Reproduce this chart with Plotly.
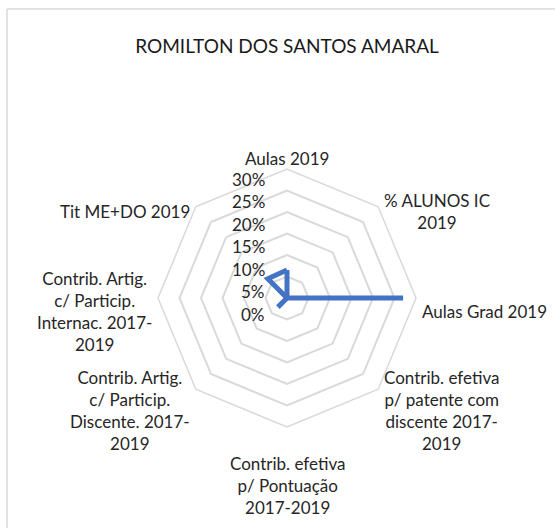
import math
import plotly.graph_objects as go

title = "ROMILTON DOS SANTOS AMARAL"
categories = [
    "Aulas 2019",
    "% ALUNOS IC 2019",
    "Aulas Grad 2019",
    "Contrib. efetiva p/ patente com discente 2017-2019",
    "Contrib. efetiva p/ Pontuação 2017-2019",
    "Contrib. Artig. c/ Particip. Discente. 2017-2019",
    "Contrib. Artig. c/ Particip. Internac. 2017-2019",
    "Tit ME+DO 2019",
]
category_labels = [
    "Aulas 2019",
    "% ALUNOS IC<br>2019",
    "Aulas Grad 2019",
    "Contrib. efetiva<br>p/ patente com<br>discente 2017-<br>2019",
    "Contrib. efetiva<br>p/ Pontuação<br>2017-2019",
    "Contrib. Artig.<br>c/ Particip.<br>Discente. 2017-<br>2019",
    "Contrib. Artig.<br>c/ Particip.<br>Internac. 2017-<br>2019",
    "Tit ME+DO 2019",
]
values = [0.065, 0.0, 0.27, 0.0, 0.0, 0.03, 0.0, 0.063]
radial_ticks = [0, 0.05, 0.10, 0.15, 0.20, 0.25, 0.30]
radial_ticklabels = ["0%", "5%", "10%", "15%", "20%", "25%", "30%"]
radial_max = 0.30

# ---- layout / style (pixels in the 555x528 canvas) ----
W, H = 555, 528
cx, cy, R = 287, 298, 129
font_family = "Lato, 'Open Sans', sans-serif"
text_color = "#262626"
grid_color = "#d9d9d9"

fig = go.Figure()
fig.add_trace(go.Scatterpolar(
    r=values + values[:1],
    theta=categories + categories[:1],
    mode="lines",
    line=dict(color="#4472C4", width=5),
    showlegend=False,
    hoverinfo="skip",
))

fig.update_layout(
    width=W, height=H,
    margin=dict(l=0, r=0, t=0, b=0),
    paper_bgcolor="white",
    plot_bgcolor="white",
    font=dict(family=font_family, size=17, color=text_color),
    title=dict(text=title, x=cx / W, xanchor="center", y=1 - 46 / H, yanchor="middle",
               font=dict(family=font_family, size=19, color="#1a1a1a")),
    polar=dict(
        domain=dict(x=[(cx - R) / W, (cx + R) / W], y=[1 - (cy + R) / H, 1 - (cy - R) / H]),
        bgcolor="white",
        gridshape="linear",
        angularaxis=dict(
            direction="clockwise",
            rotation=90,
            tickvals=categories,
            showticklabels=False,
            showgrid=False,
            showline=True,
            linecolor=grid_color,
            linewidth=1.5,
            ticks="",
        ),
        radialaxis=dict(
            range=[0, radial_max],
            tickvals=radial_ticks,
            angle=90,
            showticklabels=False,
            showline=False,
            ticks="",
            gridcolor=grid_color,
            gridwidth=1.5,
        ),
    ),
)

# category labels: centred multi-line text just outside each spoke (Excel style)
n = len(categories)
for i, lab in enumerate(category_labels):
    theta = math.radians(90 - 360 * i / n)
    dx, dy = math.cos(theta), math.sin(theta)
    xanchor = "left" if dx > 0.1 else ("right" if dx < -0.1 else "center")
    yanchor = "bottom" if dy > 0.9 else ("top" if dy < -0.9 else "middle")
    fig.add_annotation(
        text=lab, showarrow=False, align="center",
        xref="paper", yref="paper",
        x=(cx + R * dx) / W, y=1 - (cy - R * dy) / H,
        xanchor=xanchor, yanchor=yanchor,
        xshift=4 * (1 if dx > 0.1 else (-1 if dx < -0.1 else 0)),
        yshift=-13 + 11.3 * dy,
        font=dict(family=font_family, size=17, color=text_color),
    )

# radial value labels: left of the vertical spoke, hanging just below each ring (Excel style)
for t, lab in zip(radial_ticks, radial_ticklabels):
    fig.add_annotation(
        text=lab, showarrow=False,
        xref="paper", yref="paper",
        x=(cx - 20) / W, y=1 - (cy - R * t / radial_max) / H,
        xanchor="right", yanchor="middle",
        yshift=-16 + 20 * t,
        font=dict(family=font_family, size=17, color=text_color),
    )

# chart-area frame (left and top edges visible)
fig.add_shape(type="line", xref="paper", yref="paper", x0=7 / W, x1=1.01, y0=1 - 9 / H, y1=1 - 9 / H,
              line=dict(color=grid_color, width=1.5))
fig.add_shape(type="line", xref="paper", yref="paper", x0=7 / W, x1=7 / W, y0=1 - 9 / H, y1=-0.01,
              line=dict(color=grid_color, width=1.5))

fig.write_html("out.html", config={"displayModeBar": False},
               post_script="document.body.style.margin='0';")
